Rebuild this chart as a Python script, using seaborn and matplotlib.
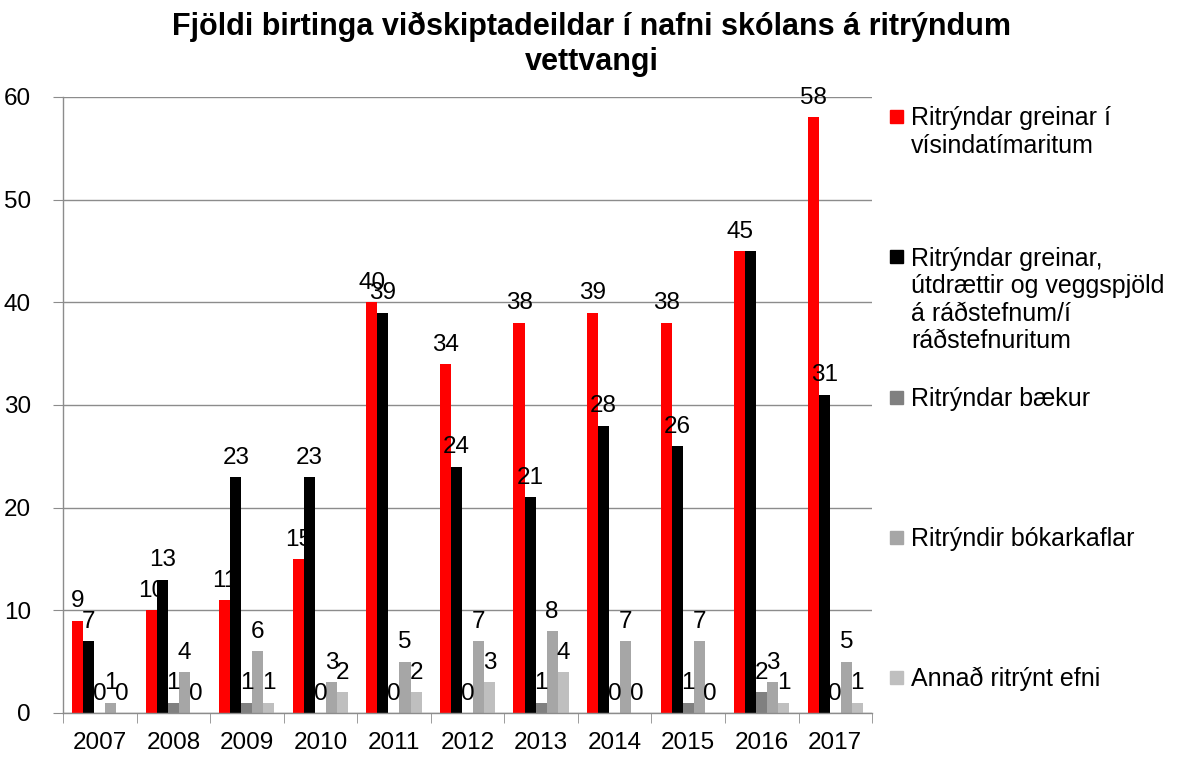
import pandas as pd
import numpy as np
import matplotlib.pyplot as plt
import seaborn as sns
from matplotlib.patches import Rectangle

# Gögn lesin af myndinni
years = ['2007', '2008', '2009', '2010', '2011', '2012', '2013', '2014', '2015', '2016', '2017']
series_names = [
    'Ritrýndar greinar í\nvísindatímaritum',
    'Ritrýndar greinar,\nútdrættir og veggspjöld\ná ráðstefnum/í\nráðstefnuritum',
    'Ritrýndar bækur',
    'Ritrýndir bókarkaflar',
    'Annað ritrýnt efni',
]
greinar = [9, 10, 11, 15, 40, 34, 38, 39, 38, 45, 58]
radstefnur = [7, 13, 23, 23, 39, 24, 21, 28, 26, 45, 31]
baekur = [0, 1, 1, 0, 0, 0, 1, 0, 1, 2, 0]
bokarkaflar = [1, 4, 6, 3, 5, 7, 8, 7, 7, 3, 5]
annad = [0, 0, 1, 2, 2, 3, 4, 0, 0, 1, 1]

colors = ['#FF0000', '#000000', '#808080', '#A6A6A6', '#BFBFBF']

all_series = [greinar, radstefnur, baekur, bokarkaflar, annad]
rows = []
for name, vals in zip(series_names, all_series):
    for y, v in zip(years, vals):
        rows.append({'Ár': y, 'Röð': name, 'Fjöldi': v})
df = pd.DataFrame(rows)

sns.set_style('white')
plt.rcParams['font.family'] = ['Liberation Sans', 'DejaVu Sans']
plt.rcParams['text.color'] = 'black'
plt.rcParams['xtick.color'] = 'black'
plt.rcParams['ytick.color'] = 'black'

fig = plt.figure(figsize=(11.91, 7.61), dpi=100)
ax = fig.add_axes([0.0529, 0.0631, 0.6793, 0.8095])

sns.barplot(data=df, x='Ár', y='Fjöldi', hue='Röð', palette=colors,
            width=0.75, legend=False, ax=ax, saturation=1, linewidth=0)

# gildismerki; í frumritinu hverfur svarta merkið þegar það lendir ofan á því rauða (2016)
for i, (c, vals) in enumerate(zip(ax.containers, all_series)):
    labels = [str(v) for v in vals]
    if i == 1:
        labels = [str(v) if v != r else '' for v, r in zip(vals, greinar)]
    ax.bar_label(c, labels=labels, fontsize=17.5, padding=6, color='black')

ax.set_ylim(0, 60)
ax.set_xlim(-0.5, len(years) - 0.5)
ax.set_yticks(range(0, 61, 10))
ax.yaxis.grid(True, color='#8C8C8C', linewidth=1)
ax.set_axisbelow(True)
ax.set_xlabel('')
ax.set_ylabel('')
for s in ['top', 'right']:
    ax.spines[s].set_visible(False)
for s in ['left', 'bottom']:
    ax.spines[s].set_color('#8C8C8C')
    ax.spines[s].set_linewidth(1)

ax.tick_params(axis='y', labelsize=17.5, length=7, color='#8C8C8C', direction='out', left=True, pad=16)
ax.tick_params(axis='x', which='major', labelsize=17.5, length=0, pad=14)
ax.set_xticks(np.arange(-0.5, len(years), 1), minor=True)
ax.tick_params(axis='x', which='minor', length=7, color='#8C8C8C', direction='out', bottom=True)

# titill: grunnlína neðri línu
fig.text(0.497, 1 - 70 / 761,
         'Fjöldi birtinga viðskiptadeildar í nafni skólans á ritrýndum\nvettvangi',
         fontsize=22, fontweight='bold', ha='center', va='baseline', linespacing=1.2,
         multialignment='center')

# Skýringar hægra megin (grunnlína fyrstu línu)
legend_base = [125, 265, 406, 546, 686]
line_h = 27.7
for name, col, b in zip(series_names, colors, legend_base):
    n = name.count('\n')
    fig.patches.append(Rectangle((890 / 1191, 1 - (b - 2) / 761), 13 / 1191, 13 / 761,
                                 color=col, transform=fig.transFigure, figure=fig))
    fig.text(911 / 1191, 1 - (b + n * line_h) / 761, name, fontsize=18, va='baseline',
             ha='left', linespacing=1.18)

plt.savefig('out.png', dpi=100)
